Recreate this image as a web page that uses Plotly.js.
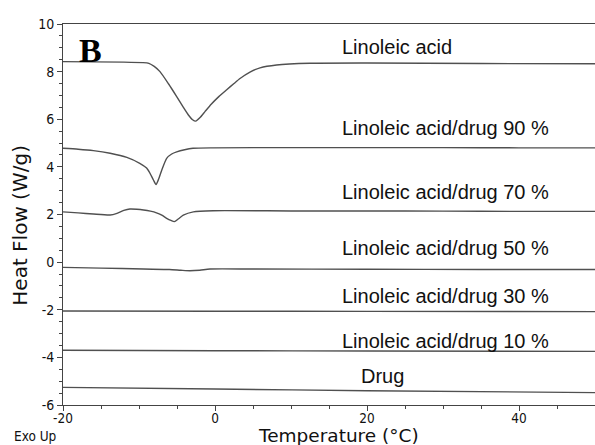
<!DOCTYPE html>
<html>
<head>
<meta charset="utf-8">
<script src="https://cdn.plot.ly/plotly-3.0.1.min.js"></script>
<style>html,body{margin:0;padding:0;background:#fff;}#chart{width:595px;height:445px;}</style>
</head>
<body>
<div id="chart"></div>
<script>
// Linoleic acid
const laX = [-20, -12, -9.5, -8.7, -8.0, -7.24, -6.1, -5.04, -4.2, -3.5, -2.95, -2.54, -2.0, -1.3, -0.5, 0.5, 1.54, 2.5, 3.29, 4.6, 5.92, 8.1, 12.5, 20, 35, 50];
const laY = [8.42, 8.40, 8.38, 8.35, 8.22, 8.0, 7.48, 6.95, 6.52, 6.18, 5.98, 5.92, 6.06, 6.33, 6.63, 6.95, 7.24, 7.50, 7.71, 7.98, 8.16, 8.28, 8.35, 8.36, 8.34, 8.33];
// 90 %
const d90X = [-20, -18, -16, -13.8, -11.6, -9.9, -9, -8.55, -8.1, -7.76, -7.4, -7.0, -6.36, -5.7, -5.04, -4, -2.9, -0.26, 10, 20, 30, 40, 50];
const d90Y = [4.78, 4.74, 4.68, 4.57, 4.40, 4.15, 3.95, 3.73, 3.45, 3.26, 3.5, 3.87, 4.36, 4.54, 4.63, 4.72, 4.78, 4.80, 4.81, 4.81, 4.81, 4.80, 4.80];
// 70 %
const d70X = [-20, -18, -16, -13.8, -12.9, -12, -11.2, -10.3, -9.4, -8.5, -7.7, -7, -6.36, -5.8, -5.35, -4.8, -4.17, -2.85, -0.26, 10, 20, 30, 40, 50];
const d70Y = [2.11, 2.07, 2.02, 1.98, 2.05, 2.17, 2.23, 2.22, 2.19, 2.14, 2.07, 1.97, 1.84, 1.75, 1.70, 1.82, 1.97, 2.11, 2.16, 2.15, 2.15, 2.14, 2.13, 2.13];
// 50 %
const d50X = [-20, -15, -9.4, -6, -4.5, -3.3, -2, -0.66, 5, 20, 35, 50];
const d50Y = [-0.22, -0.25, -0.29, -0.31, -0.34, -0.36, -0.34, -0.29, -0.29, -0.30, -0.31, -0.31];
// 30 %
const d30X = [-20, 0, 20, 50];
const d30Y = [-2.05, -2.06, -2.07, -2.08];
// 10 %
const d10X = [-20, 0, 20, 50];
const d10Y = [-3.70, -3.72, -3.73, -3.75];
// Drug
const drugX = [-20, 0, 20, 50];
const drugY = [-5.26, -5.33, -5.40, -5.48];

const labels = ["Linoleic acid", "Linoleic acid/drug 90 %", "Linoleic acid/drug 70 %", "Linoleic acid/drug 50 %", "Linoleic acid/drug 30 %", "Linoleic acid/drug 10 %", "Drug"];
const labelX = [16.4, 16.4, 16.4, 16.4, 16.4, 16.4, 19.0];
const labelY = [9.05, 5.62, 2.94, 0.59, -1.43, -3.32, -4.79];

const xTickVals = [-20, 0, 20, 40];
const xTickText = ['-20', '0', '20', '40'];
const yTickVals = [-6, -4, -2, 0, 2, 4, 6, 8, 10];
const yTickText = ['-6', '-4', '-2', '0', '2', '4', '6', '8', '10'];

const series = [[laX, laY], [d90X, d90Y], [d70X, d70Y], [d50X, d50Y], [d30X, d30Y], [d10X, d10Y], [drugX, drugY]];
const lineColor = '#505050';
const traces = series.map((s, i) => ({
  x: s[0], y: s[1], type: 'scatter', mode: 'lines', name: labels[i],
  line: {color: lineColor, width: 1.4, shape: 'spline', smoothing: 0.6},
  hoverinfo: 'skip', showlegend: false
}));

const annotations = labels.map((t, i) => ({
  x: labelX[i], y: labelY[i], xref: 'x', yref: 'y', text: t, showarrow: false,
  xanchor: 'left', yanchor: 'middle',
  font: {family: 'Liberation Sans, Arial, sans-serif', size: 20, color: '#111'}
}));
annotations.push({
  xref: 'paper', yref: 'paper', x: 0.026, y: 0.931, xanchor: 'left', yanchor: 'middle',
  text: '<b>B</b>', showarrow: false,
  font: {family: 'Liberation Serif, Times New Roman, serif', size: 34, color: '#000'}
});
annotations.push({
  xref: 'paper', yref: 'paper', x: -0.051, y: -0.081, xanchor: 'center', yanchor: 'middle',
  text: 'Exo Up', showarrow: false,
  font: {family: 'DejaVu Sans Condensed, DejaVu Sans, sans-serif', size: 13.5, color: '#111'}
});
annotations.push({
  xref: 'paper', yref: 'paper', x: 0.517, y: -0.081, xanchor: 'center', yanchor: 'middle',
  text: 'Temperature (°C)', showarrow: false,
  font: {family: 'DejaVu Sans, sans-serif', size: 18.5, color: '#111'}
});
annotations.push({
  xref: 'paper', yref: 'paper', x: -0.081, y: 0.473, xanchor: 'center', yanchor: 'middle',
  text: 'Heat Flow (W/g)', showarrow: false, textangle: -90,
  font: {family: 'DejaVu Sans, sans-serif', size: 20, color: '#111'}
});

const tickFont = {family: 'DejaVu Sans Condensed, DejaVu Sans, sans-serif', size: 14, color: '#111'};
const layout = {
  width: 595, height: 445,
  margin: {l: 63, r: 0, t: 24, b: 40, pad: 0},
  paper_bgcolor: '#fff', plot_bgcolor: '#fff',
  showlegend: false,
  xaxis: {
    range: [-20, 50], tickvals: xTickVals, ticktext: xTickText,
    ticks: 'outside', ticklen: 5, tickcolor: '#444', tickwidth: 1,
    showline: true, linecolor: '#444', linewidth: 1, mirror: true,
    showgrid: false, zeroline: false,
    tickfont: {family: tickFont.family, size: 13.5, color: '#111'},
    ticklabelstandoff: -4,
    minor: {dtick: 5, tick0: 0, ticks: 'outside', ticklen: 3, tickcolor: '#444', showgrid: false}
  },
  yaxis: {
    range: [-6, 10], tickvals: yTickVals, ticktext: yTickText,
    ticks: 'outside', ticklen: 5, tickcolor: '#444', tickwidth: 1,
    showline: true, linecolor: '#444', linewidth: 1,
    showgrid: false, zeroline: false, tickfont: tickFont,
    minor: {dtick: 0.5, tick0: 0, ticks: 'outside', ticklen: 3, tickcolor: '#444', showgrid: false}
  },
  annotations: annotations
};

Plotly.newPlot('chart', traces, layout, {displayModeBar: false, staticPlot: true});
</script>
</body>
</html>
